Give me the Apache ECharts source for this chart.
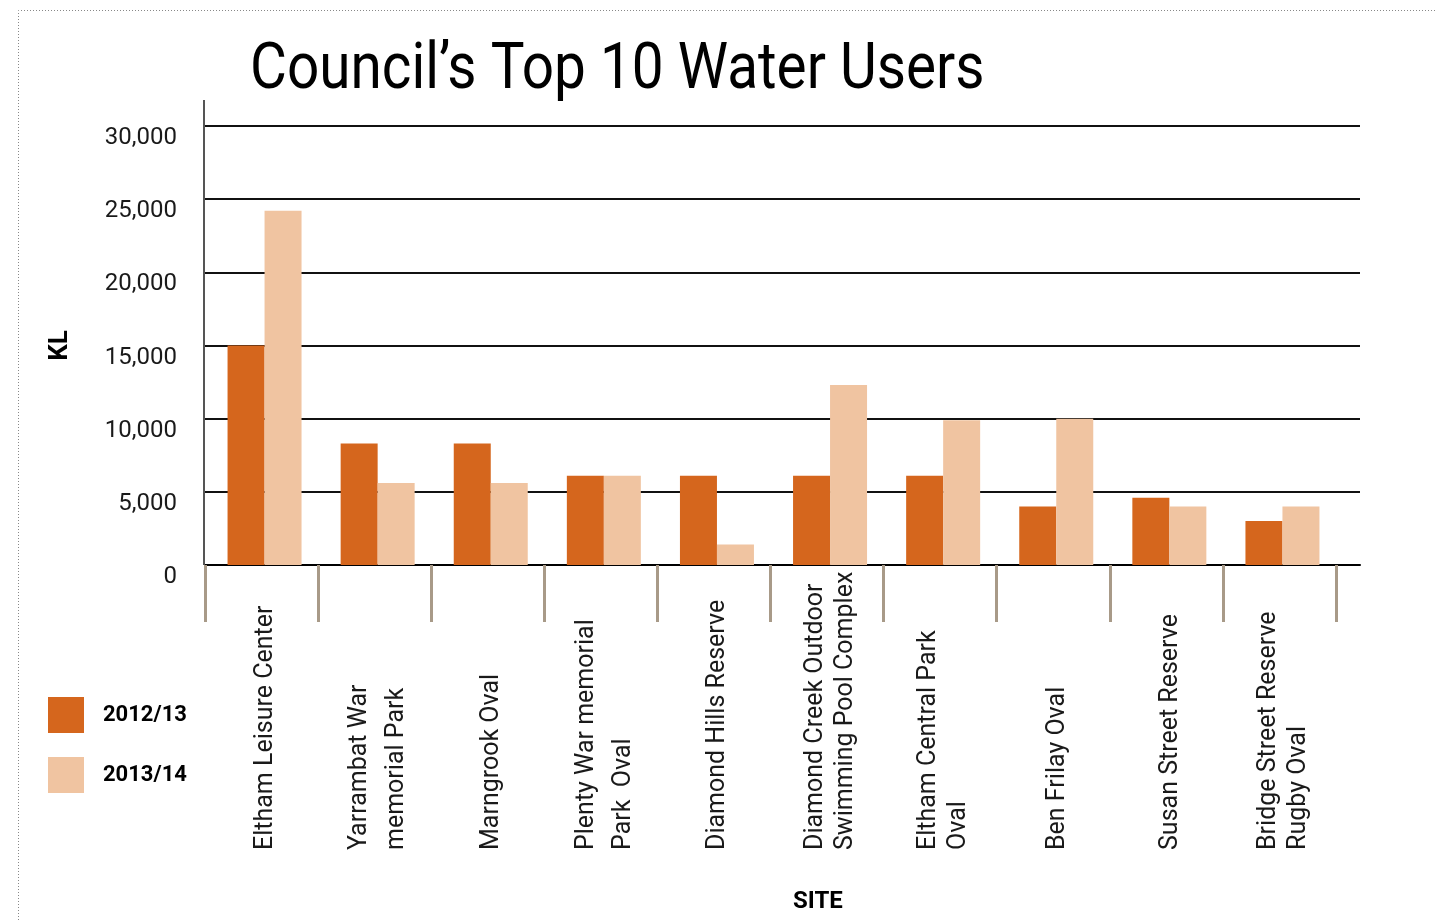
<!DOCTYPE html>
<html>
<head>
<meta charset="utf-8">
<script src="https://cdn.jsdelivr.net/npm/echarts@6/dist/echarts.min.js"></script>
<style>
  html, body { margin: 0; padding: 0; background: #fff; }
  #chart { width: 1436px; height: 920px; }
</style>
</head>
<body>
<div id="chart"></div>
<script>
// Sites, in the order they appear along the axis
const categories = [
  'Eltham Leisure Center',
  'Yarrambat War\nmemorial Park',
  'Marngrook Oval',
  'Plenty War memorial\nPark  Oval',
  'Diamond Hills Reserve',
  'Diamond Creek Outdoor\nSwimming Pool Complex',
  'Eltham Central Park\nOval',
  'Ben Frilay Oval',
  'Susan Street Reserve',
  'Bridge Street Reserve\nRugby Oval'
];
// Water use in kilolitres per financial year
const use2012 = [15000, 8300, 8300, 6100, 6100, 6100, 6100, 4000, 4600, 3000];
const use2013 = [24200, 5600, 5600, 6100, 1400, 12300, 9900, 10000, 4000, 4000];
const seriesNames = ['2012/13', '2013/14'];
const yTicks = { min: 0, max: 30000, interval: 5000 };

const FONT = 'Roboto, sans-serif';
const DARK = '#D5661D';
const LIGHT = '#F0C4A1';
const TEXT = '#1a1a1a';

// two of the wrapped site names use a looser line spacing
const wideSpacing = new Set([1, 3]);
const labelStyle = { fontFamily: FONT, fontSize: 25, color: TEXT, align: 'left' };

const chart = echarts.init(document.getElementById('chart'));

const gridBase = { top: 126, bottom: 355, outerBoundsMode: 'none', containLabel: false };

const option = {
  backgroundColor: '#fff',
  animation: false,
  title: {
    text: 'SITE',
    left: 793, top: 890, padding: 0,
    textStyle: { fontFamily: FONT, fontSize: 24, fontWeight: 'bold', color: '#000' }
  },
  legend: {
    orient: 'vertical',
    left: 48, top: 697, padding: 0,
    itemWidth: 36, itemHeight: 36, itemGap: 24,
    icon: 'rect',
    data: seriesNames,
    textStyle: {
      fontFamily: FONT, fontSize: 22, fontWeight: 'bold', color: '#000',
      padding: [0, 0, 0, 14]
    }
  },
  grid: [
    // full-width grid for the horizontal rules and the baseline
    Object.assign({ left: 205, right: 76 }, gridBase),
    // category grid carrying the separator ticks and site names
    Object.assign({ left: 205, right: 100 }, gridBase),
    // bar grid, nudged slightly right of the separators
    Object.assign({ left: 208, right: 97 }, gridBase)
  ],
  xAxis: [
    {
      gridIndex: 0, type: 'value', min: 0, max: 1,
      axisLine: { show: true, lineStyle: { color: '#000', width: 2 } },
      axisTick: { show: false }, axisLabel: { show: false }, splitLine: { show: false }
    },
    {
      gridIndex: 1, type: 'category', data: categories,
      axisLine: { show: false },
      axisTick: { show: true, length: 57, lineStyle: { color: '#A89A88', width: 3 } },
      axisLabel: {
        rotate: 90, margin: 0, interval: 0,
        // fixed-width box ending at the axis; lines start from its far edge
        width: 285, overflow: 'none',
        padding: [8, 0, 0, 0],
        formatter: (value, idx) => {
          const key = wideSpacing.has(idx) ? 'w' : 'n';
          return value.split('\n').map(s => '{' + key + '|' + s + '}').join('\n');
        },
        rich: {
          n: Object.assign({ lineHeight: 30 }, labelStyle),
          w: Object.assign({ lineHeight: 37 }, labelStyle)
        }
      }
    },
    {
      gridIndex: 2, type: 'category', data: categories, show: false
    }
  ],
  yAxis: [
    {
      gridIndex: 0, type: 'value', ...yTicks,
      name: 'KL', nameLocation: 'middle', nameRotate: 90, nameGap: 132,
      nameTextStyle: { fontFamily: FONT, fontSize: 26, fontWeight: 'bold', color: '#000' },
      axisLine: { show: false }, axisTick: { show: false },
      axisLabel: {
        margin: 28, fontFamily: FONT, fontSize: 24, color: TEXT,
        verticalAlign: 'top', lineHeight: 24,
        formatter: v => v.toLocaleString('en-US')
      },
      splitLine: { show: true, lineStyle: { color: '#111', width: 2 } }
    },
    {
      gridIndex: 1, type: 'value', ...yTicks, show: false, splitLine: { show: false }
    },
    {
      gridIndex: 2, type: 'value', ...yTicks, show: false, splitLine: { show: false }
    }
  ],
  series: [
    {
      name: seriesNames[0], type: 'bar', xAxisIndex: 2, yAxisIndex: 2,
      data: use2012, barWidth: 37, barGap: '0%',
      itemStyle: { color: DARK }
    },
    {
      name: seriesNames[1], type: 'bar', xAxisIndex: 2, yAxisIndex: 2,
      data: use2013, barWidth: 37, barGap: '0%',
      itemStyle: { color: LIGHT }
    }
  ]
};

chart.setOption(option);

// heading, value-axis rule (runs a little above the top tick) and dotted page frame
const yTopPx = chart.convertToPixel({ yAxisIndex: 0 }, yTicks.max);
const yBasePx = chart.convertToPixel({ yAxisIndex: 0 }, 0);
const xLeftPx = chart.convertToPixel({ xAxisIndex: 0 }, 0);
chart.setOption({
  graphic: [
    {
      type: 'text', x: 250, y: 40, scaleX: 0.886,
      style: {
        text: 'Council\u2019s Top 10 Water Users',
        font: 'normal 64px Roboto, sans-serif',
        fill: '#000', textAlign: 'left', textVerticalAlign: 'top'
      }
    },
    {
      type: 'line', z: 10,
      shape: { x1: xLeftPx - 1, y1: yTopPx - 26, x2: xLeftPx - 1, y2: yBasePx },
      style: { stroke: '#555', lineWidth: 2 }
    },
    {
      type: 'polyline', z: 10,
      shape: { points: [[18.5, 920], [18.5, 10.5], [1436, 10.5]] },
      style: { stroke: '#888', lineWidth: 1, lineDash: [1, 2], fill: null }
    }
  ]
});
</script>
</body>
</html>
